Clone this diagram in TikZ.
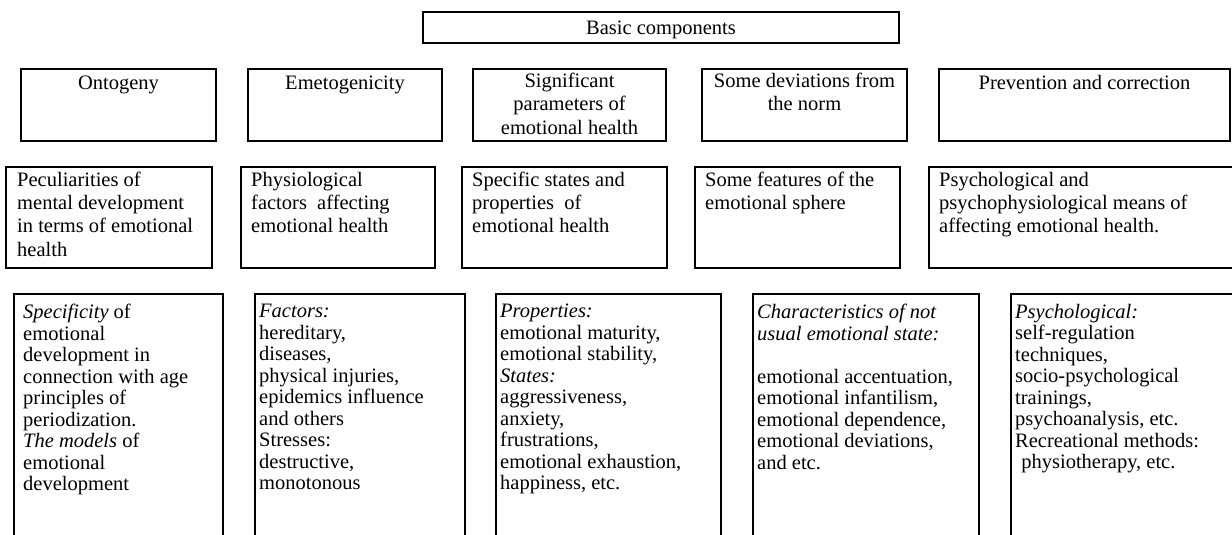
\documentclass[tikz,border=0pt]{standalone}
\usepackage{fontspec}
\setmainfont{Liberation Serif}
\usetikzlibrary{positioning}
\tikzset{
  frame/.style={draw, line width=1.3pt, inner sep=0pt, outer sep=0pt, anchor=north west},
  toptext/.style={inner sep=0pt, align=center, font=\fontsize{20.5}{23}\selectfont, execute at begin node=\strut},
  headtext/.style={inner sep=0pt, align=center, font=\fontsize{20.5}{23.5}\selectfont, execute at begin node=\strut},
  parttext/.style={inner sep=0pt, align=left, font=\fontsize{20.5}{23.3}\selectfont, execute at begin node=\strut},
  itemtext/.style={inner sep=0pt, align=left, font=\fontsize{20.5}{21.5}\selectfont, execute at begin node=\strut}
}
\begin{document}
\begin{tikzpicture}[x=1pt, y=-1pt]
  \useasboundingbox (0,0) rectangle (1232,535);
  % top
  \node[frame, minimum width=476pt, minimum height=31pt] (basic) at (423,12) {};
  \node[toptext, below=5.9pt of basic.north] (basic-t) {Basic components};
  % components
  \node[frame, minimum width=195pt, minimum height=72pt] (onto) at (21,69) {};
  \node[frame, minimum width=194pt, minimum height=72pt] (emet) at (248,69) {};
  \node[frame, minimum width=193pt, minimum height=72pt] (sign) at (473,69) {};
  \node[frame, minimum width=205pt, minimum height=72pt] (devi) at (702,69) {};
  \node[frame, minimum width=291pt, minimum height=72pt] (prev) at (939,69) {};
  \node[headtext, below=3.6pt of onto.north] (onto-t) {Ontogeny};
  \node[headtext, below=3.6pt of emet.north] (emet-t) {Emetogenicity};
  \node[headtext, below=3.6pt of sign.north] (sign-t) {Significant\\parameters of\\emotional health};
  \node[headtext, below=3.6pt of devi.north] (devi-t) {Some deviations from\\the norm};
  \node[headtext, below=3.6pt of prev.north] (prev-t) {Prevention and correction};
  % contents
  \node[frame, minimum width=206pt, minimum height=101pt] (pecu) at (6,167) {};
  \node[frame, minimum width=194pt, minimum height=101pt] (phys) at (241,167) {};
  \node[frame, minimum width=205pt, minimum height=101pt] (stat) at (462,167) {};
  \node[frame, minimum width=205pt, minimum height=101pt] (feat) at (695,167) {};
  \node[frame, minimum width=316pt, minimum height=101pt] (mean) at (929,167) {};
  \node[parttext, below right=4.7pt and 11pt of pecu.north west] (pecu-t) {Peculiarities of\\mental development\\in terms of emotional\\health};
  \node[parttext, below right=4.7pt and 10pt of phys.north west] (phys-t) {Physiological\\factors~ affecting\\emotional health};
  \node[parttext, below right=4.7pt and 10pt of stat.north west] (stat-t) {Specific states and\\properties~ of\\emotional health};
  \node[parttext, below right=4.7pt and 10pt of feat.north west] (feat-t) {Some features of the\\emotional sphere};
  \node[parttext, below right=4.7pt and 10pt of mean.north west] (mean-t) {Psychological and\\psychophysiological means of\\affecting emotional health.};
  % details
  \node[frame, minimum width=209pt, minimum height=250pt] (spec) at (14,294) {};
  \node[frame, minimum width=210pt, minimum height=250pt] (fact) at (255,294) {};
  \node[frame, minimum width=225pt, minimum height=250pt] (prop) at (496,294) {};
  \node[frame, minimum width=226pt, minimum height=250pt] (char) at (753,294) {};
  \node[frame, minimum width=234pt, minimum height=250pt] (meth) at (1011,294) {};
  \node[itemtext, below right=10pt and 9pt of spec.north west] (spec-t) {\textit{Specificity} of\\emotional\\development in\\connection with age\\principles of\\periodization.\\\textit{The models} of\\emotional\\development};
  \node[itemtext, below right=10pt and 4pt of fact.north west] (fact-t) {\textit{Factors:}\\hereditary,\\diseases,\\physical injuries,\\epidemics influence\\and others\\Stresses:\\destructive,\\monotonous};
  \node[itemtext, below right=10pt and 4pt of prop.north west] (prop-t) {\textit{Properties:}\\emotional maturity,\\emotional stability,\\\textit{States:}\\aggressiveness,\\anxiety,\\frustrations,\\emotional exhaustion,\\happiness, etc.};
  \node[itemtext, below right=10pt and 4pt of char.north west] (char-t) {\textit{Characteristics of not}\\\textit{usual emotional state:}\\[21.5pt]emotional accentuation,\\emotional infantilism,\\emotional dependence,\\emotional deviations,\\and etc.};
  \node[itemtext, below right=10pt and 4pt of meth.north west] (meth-t) {\textit{Psychological:}\\self-regulation\\techniques,\\socio-psychological\\trainings,\\psychoanalysis, etc.\\Recreational methods:\\\hspace{0.3em}physiotherapy, etc.};
\end{tikzpicture}
\end{document}
